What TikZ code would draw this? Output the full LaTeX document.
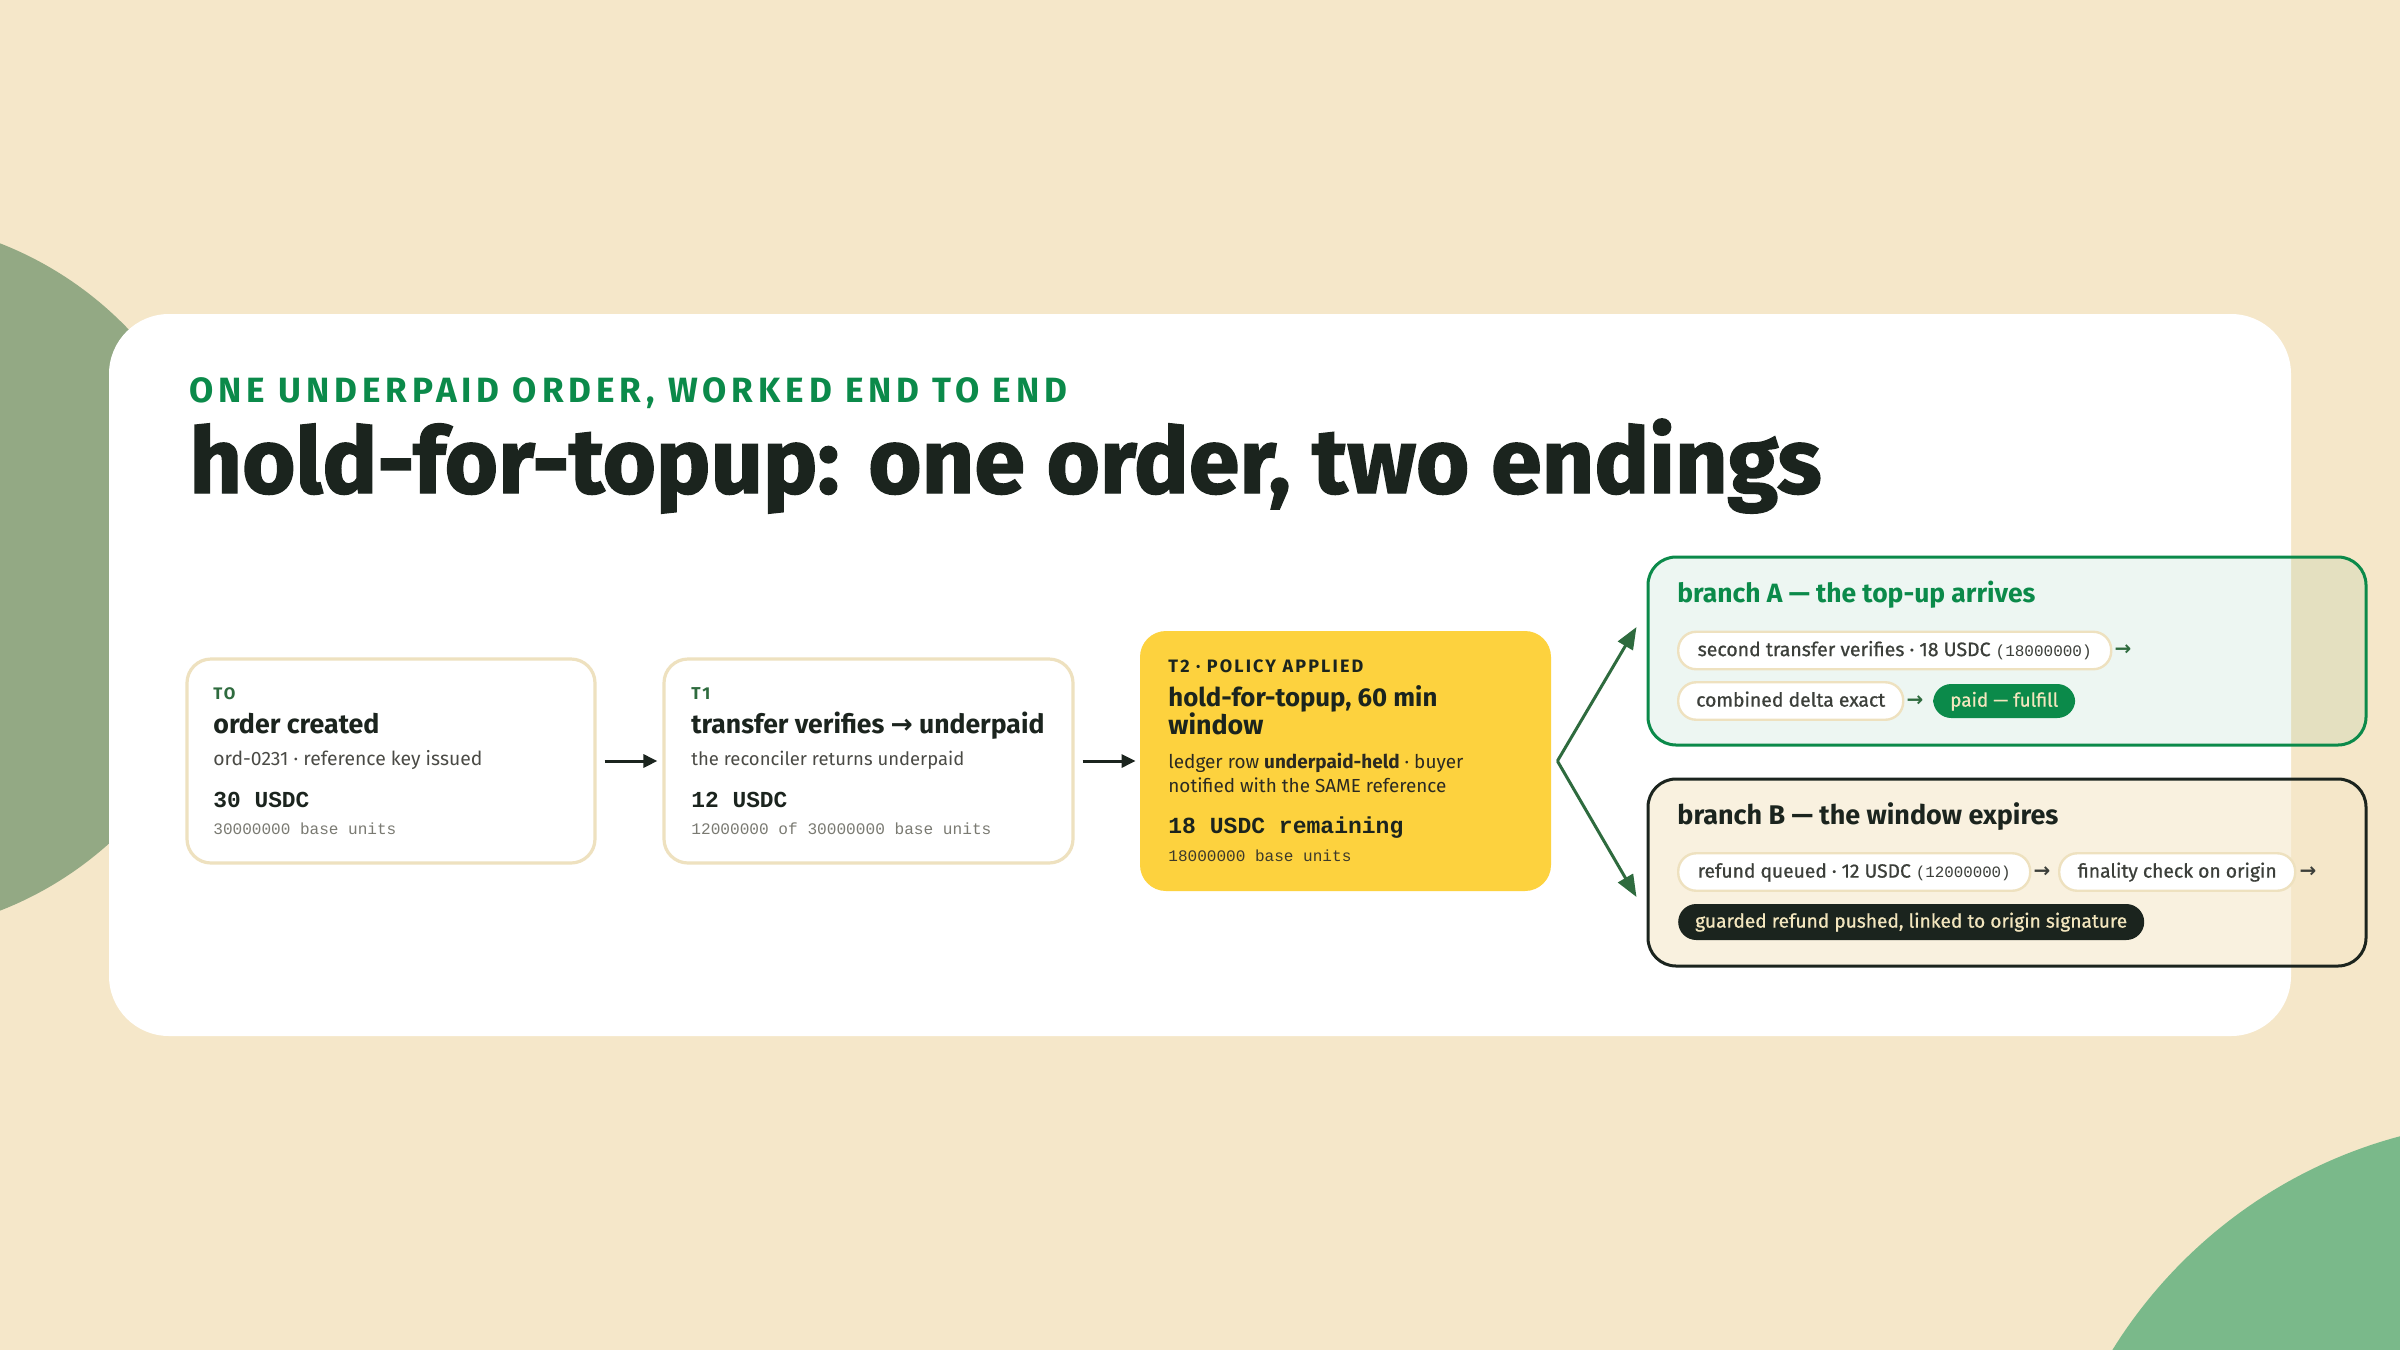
\documentclass[tikz,border=0pt]{standalone}
\usepackage{fontspec}
\usepackage{graphicx}
\setmainfont{Fira Sans}
\newfontfamily\titlefont{Fira Sans}[BoldFeatures={FakeBold=1.6}]
\newfontfamily\medfont{Fira Sans}[UprightFeatures={FakeBold=0.8}]
\newfontfamily\monofont{Liberation Mono}
\newfontfamily\symfont{DejaVu Sans}
\usetikzlibrary{arrows.meta,calc}
\definecolor{bg}{HTML}{F5E7C9}
\definecolor{blobL}{HTML}{93A984}
\definecolor{blobR}{HTML}{7AB98A}
\definecolor{ink}{HTML}{1B241E}
\definecolor{gA}{HTML}{0B8A4A}
\definecolor{tgreen}{HTML}{2E6B3E}
\definecolor{subgray}{HTML}{4A4A45}
\definecolor{monogray}{HTML}{7A7A72}
\definecolor{creamline}{HTML}{EEE1BF}
\definecolor{yel}{HTML}{FDD23E}
\definecolor{yeltext}{HTML}{2B2A22}
\definecolor{yelmono}{HTML}{3D3A2A}
\definecolor{pilltext}{HTML}{3C3F3A}
\definecolor{creamtext}{HTML}{F3E6BE}
\newcommand{\fitto}[2]{\resizebox{#1}{!}{#2}}
\begin{document}
\begin{tikzpicture}[x=0.5pt,y=-0.5pt,
  txt/.style={inner sep=0pt, anchor=base west},
  stepcard/.style={draw=creamline, line width=1.6pt, fill=white, rounded corners=12pt, inner sep=0pt},
  policycard/.style={fill=yel, rounded corners=13pt, inner sep=0pt},
  branchAbox/.style={draw=gA, line width=1.5pt, fill=gA, fill opacity=0.07, rounded corners=14pt, inner sep=0pt},
  branchBbox/.style={draw=ink, line width=1.5pt, fill=bg, fill opacity=0.58, rounded corners=14pt, inner sep=0pt},
  pill/.style={draw=creamline, line width=1.2pt, fill=white, rounded corners=9pt, minimum height=18.75pt, inner ysep=0pt, text height=5.6pt, text depth=0pt, text=pilltext, anchor=west},
  pillgreen/.style={pill, draw=none, fill=gA, text=creamtext, minimum height=17pt},
  pilldark/.style={pill, draw=none, fill=ink, text=creamtext, minimum height=18pt},
  flowarrow/.style={draw=ink, line width=1.5pt, -{Triangle[length=7pt,width=6.5pt]}},
  brancharrow/.style={draw=tgreen, line width=1.5pt, -{Triangle[length=11pt,width=8.5pt]}},
  glyph/.style={inner sep=0pt, font=\symfont\bfseries\fontsize{10}{10}\selectfont}
]
\useasboundingbox (0,0) rectangle (2400,1350);
\clip (0,0) rectangle (2400,1350);
\fill[bg] (0,0) rectangle (2400,1350);
\fill[blobL] (-130,577) circle [radius=358];
\fill[blobR] (2525,1605) circle [radius=485];
\fill[white, rounded corners=30pt] (109,314) rectangle (2291,1036);

% heading
\node[txt, text=gA] (kicker) at (189,402) {\fitto{439pt}{\bfseries\addfontfeatures{LetterSpace=14}\fontsize{14.5}{14.5}\selectfont ONE UNDERPAID ORDER, WORKED END TO END}};
\node[txt, text=ink] (title) at (189,493) {\fitto{816pt}{\titlefont\bfseries\fontsize{44}{44}\selectfont hold-for-topup: one order, two endings}};

% step cards
\node[stepcard, minimum width=204pt, minimum height=102pt] (t0) at (391,761) {};
\node[stepcard, minimum width=204.5pt, minimum height=102pt] (t1) at (868.5,761) {};
\node[policycard, minimum width=205.5pt, minimum height=130pt] (t2) at (1345.5,761) {};

% T0 texts
\node[txt, text=tgreen] (l0) at (213,699) {\fitto{11pt}{\bfseries\addfontfeatures{LetterSpace=12}TO}};
\node[txt, text=ink] (h0) at (213,733) {\fitto{83pt}{\bfseries order created}};
\node[txt, text=subgray] (s0) at (213,765) {\fitto{134.5pt}{ord-0231 · reference key issued}};
\node[txt, text=ink] (a0) at (213,807) {\fitto{48pt}{\monofont\bfseries 30 USDC}};
\node[txt, text=monogray] (u0) at (213,834) {\fitto{91.5pt}{\monofont 30000000 base units}};

% T1 texts
\node[txt, text=tgreen] (l1) at (691,699) {\fitto{9.5pt}{\bfseries\addfontfeatures{LetterSpace=12}T1}};
\node[txt, text=ink] (h1) at (691,733) {\fitto{176.5pt}{\bfseries transfer verifies {\symfont\bfseries →} underpaid}};
\node[txt, text=subgray] (s1) at (691,765) {\fitto{136.5pt}{the reconciler returns underpaid}};
\node[txt, text=ink] (a1) at (691,807) {\fitto{48pt}{\monofont\bfseries 12 USDC}};
\node[txt, text=monogray] (u1) at (691,834) {\fitto{150pt}{\monofont 12000000 of 30000000 base units}};

% T2 texts
\node[txt, text=ink] (l2) at (1168,672) {\fitto{97.5pt}{\bfseries\addfontfeatures{LetterSpace=12}T2 · POLICY APPLIED}};
\node[txt, text=ink] (h2a) at (1168,706) {\fitto{134.5pt}{\bfseries hold-for-topup, 60 min}};
\node[txt, text=ink] (h2b) at (1168,734) {\fitto{47.5pt}{\bfseries window}};
\node[txt, text=yeltext] (s2a) at (1168,768) {\fitto{147.5pt}{ledger row \textbf{underpaid-held} · buyer}};
\node[txt, text=yeltext] (s2b) at (1168,792) {\fitto{139pt}{notified with the SAME reference}};
\node[txt, text=ink] (a2) at (1168,833) {\fitto{117.5pt}{\monofont\bfseries 18 USDC remaining}};
\node[txt, text=yelmono] (u2) at (1168,861) {\fitto{91.5pt}{\monofont 18000000 base units}};

% branch boxes
\node[branchAbox, minimum width=359pt, minimum height=94pt] (bA) at (2007,651) {};
\node[branchBbox, minimum width=359pt, minimum height=93.5pt] (bB) at (2007,872.5) {};

\node[txt, text=gA] (hA) at (1677,602) {\fitto{179pt}{\bfseries branch A — the top-up arrives}};
\node[txt, text=ink] (hB) at (1677,824) {\fitto{190.5pt}{\bfseries branch B — the window expires}};

% branch A pills
\node[pill, inner xsep=9.75pt] (pA1) at (1677,650.5) {\fitto{197pt}{\medfont\fontsize{9}{9}\selectfont second transfer verifies · 18 USDC {\monofont\fontsize{7.4}{7.4}\selectfont (18000000)}}};
\node[glyph, text=tgreen] (gA1) at (2123,650) {→};
\node[pill, inner xsep=9pt] (pA2) at (1677,701) {\fitto{94.5pt}{\medfont combined delta exact}};
\node[glyph, text=tgreen] (gA2) at (1915,701) {→};
\node[pillgreen, inner xsep=8.5pt] (pA3) at (1932,701) {\fitto{54pt}{\medfont paid — fulfill}};

% branch B pills
\node[pill, inner xsep=9.75pt] (pB1) at (1677,872) {\fitto{156.5pt}{\medfont\fontsize{9}{9}\selectfont refund queued · 12 USDC {\monofont\fontsize{7.4}{7.4}\selectfont (12000000)}}};
\node[glyph, text=pilltext] (gB1) at (2042,872) {→};
\node[pill, inner xsep=9.25pt] (pB2) at (2058,872) {\fitto{99.5pt}{\medfont finality check on origin}};
\node[glyph, text=pilltext] (gB2) at (2308,872) {→};
\node[pilldark, inner xsep=8.5pt] (pB3) at (1677,922) {\fitto{216pt}{\medfont guarded refund pushed, linked to origin signature}};

% connectors
\draw[flowarrow] ($(t0.east)+(8,0)$) -- ($(t1.west)+(-5,0)$);
\draw[flowarrow] ($(t1.east)+(8,0)$) -- ($(t2.west)+(-4,0)$);
\coordinate (fork) at ($(t2.east)+(6,0)$);
\draw[brancharrow] (fork) -- ($(bA.west)+(-10,-24)$);
\draw[brancharrow] (fork) -- ($(bB.west)+(-10,24.5)$);
\end{tikzpicture}
\end{document}
